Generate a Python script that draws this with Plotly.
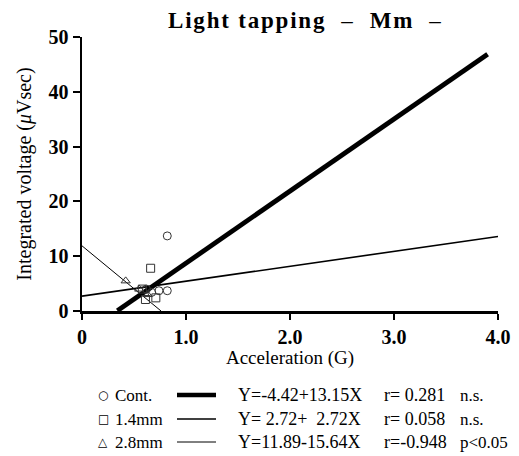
import plotly.graph_objects as go

# ---------------- data ----------------
cont_x = [0.82, 0.74, 0.82, 0.62, 0.67]
cont_y = [13.7, 3.7, 3.7, 4.0, 3.4]
mm14_x = [0.66, 0.71, 0.61, 0.58]
mm14_y = [7.8, 2.4, 2.1, 4.0]
mm28_x = [0.42, 0.55, 0.63]
mm28_y = [5.5, 4.0, 3.0]

# regression lines: intercept, slope, x-extent
cont_fit = (-4.42, 13.15)
cont_line_x = [0.34, 3.9]
mm14_fit = (2.72, 2.72)
mm14_line_x = [0.0, 4.0]
mm28_fit = (11.89, -15.64)
mm28_line_x = [0.0, 0.76]

x_ticks = [0, 1, 2, 3, 4]
x_ticktext = ["0", "1.0", "2.0", "3.0", "4.0"]
y_ticks = [0, 10, 20, 30, 40, 50]

legend_labels = ["Cont.", "1.4mm", "2.8mm"]
legend_symbols = ["○", "□", "△"]
legend_eq = ["Y=-4.42+13.15X", "Y=\u00a02.72+\u00a0\u00a02.72X", "Y=11.89-15.64X"]
legend_r = ["r=\u00a00.281", "r=\u00a00.058", "r=-0.948"]
legend_sig = ["n.s.", "n.s.", "p<0.05"]
legend_widths = [4.5, 1.6, 1.0]

FONT = "Liberation Serif"
W, H = 519, 456
L, R, T, B = 82, 21, 37, 145
PW, PH = W - L - R, H - T - B


def px(xp):
    return (xp - L) / PW


def py(yp):
    return (H - B - yp) / PH


fig = go.Figure()


def line_trace(fit, xs, width):
    a, b = fit
    return go.Scatter(x=xs, y=[a + b * v for v in xs], mode="lines",
                      line=dict(color="black", width=width),
                      showlegend=False, hoverinfo="skip", cliponaxis=False)


fig.add_trace(line_trace(cont_fit, cont_line_x, 4.8))
fig.add_trace(line_trace(mm14_fit, mm14_line_x, 1.6))
fig.add_trace(line_trace(mm28_fit, mm28_line_x, 1.0))

mk = dict(color="#333333", size=8, line=dict(width=1))
fig.add_trace(go.Scatter(x=cont_x, y=cont_y, mode="markers",
                         marker=dict(symbol="circle-open", **mk),
                         showlegend=False, cliponaxis=False))
fig.add_trace(go.Scatter(x=mm14_x, y=mm14_y, mode="markers",
                         marker=dict(symbol="square-open", **mk),
                         showlegend=False, cliponaxis=False))
fig.add_trace(go.Scatter(x=mm28_x, y=mm28_y, mode="markers",
                         marker=dict(symbol="triangle-up-open", **mk),
                         showlegend=False, cliponaxis=False))

# legend block
rows_y = [395, 419, 442]
fs = 17
for i in range(3):
    yy = py(rows_y[i])
    fig.add_annotation(x=px(103), y=yy, xref="paper", yref="paper",
                       text=legend_symbols[i], showarrow=False,
                       xanchor="center", yanchor="middle",
                       font=dict(family="DejaVu Sans", size=12, color="black"))
    fig.add_annotation(x=px(113), y=yy, xref="paper", yref="paper",
                       text=legend_labels[i],
                       showarrow=False, xanchor="left", yanchor="middle",
                       font=dict(family=FONT, size=fs, color="black"))
    fig.add_shape(type="line", xref="paper", yref="paper",
                  x0=px(177), x1=px(216), y0=yy, y1=yy,
                  line=dict(color="black", width=legend_widths[i]))
    fig.add_annotation(x=px(236), y=yy, xref="paper", yref="paper",
                       text=legend_eq[i], showarrow=False,
                       xanchor="left", yanchor="middle",
                       font=dict(family=FONT, size=fs + 1, color="black"))
    fig.add_annotation(x=px(382), y=yy, xref="paper", yref="paper",
                       text=legend_r[i], showarrow=False,
                       xanchor="left", yanchor="middle",
                       font=dict(family=FONT, size=fs + 1, color="black"))
    fig.add_annotation(x=px(458), y=yy, xref="paper", yref="paper",
                       text=legend_sig[i], showarrow=False,
                       xanchor="left", yanchor="middle",
                       font=dict(family=FONT, size=fs, color="black"))

fig.update_layout(
    width=W, height=H,
    margin=dict(l=L, r=R, t=T, b=B, autoexpand=False),
    paper_bgcolor="white", plot_bgcolor="white",
    font=dict(family=FONT, color="black"),
    title=dict(text="<b>Light tapping</b>\u00a0\u00a0–\u00a0\u00a0<b>Mm</b>\u00a0\u00a0–",
               x=168 / W, xanchor="left", y=1 - 20 / H, yanchor="middle",
               font=dict(family=FONT, size=23, color="black")),
    xaxis=dict(range=[0, 4], tickvals=x_ticks, ticktext=x_ticktext,
               automargin=False,
               showgrid=False, zeroline=False, showline=True,
               linecolor="black", linewidth=2.5, ticks="outside",
               ticklen=6, tickwidth=2, tickcolor="black",
               tickfont=dict(family=FONT, size=20, color="black", weight="bold"),
               title=dict(text="Acceleration (G)", standoff=4,
                          font=dict(family=FONT, size=19, color="black"))),
    yaxis=dict(range=[0, 50], tickvals=y_ticks,
               automargin=False,
               showgrid=False, zeroline=False, showline=True,
               linecolor="black", linewidth=2.5, ticks="outside",
               ticklen=7, tickwidth=2, tickcolor="black",
               tickfont=dict(family=FONT, size=20, color="black", weight="bold"),
               title=dict(text="Integrated voltage (<i>μ</i>Vsec)", standoff=12,
                          font=dict(family=FONT, size=20, color="black"))),
)

post = (
    "document.body.style.margin='0';"
    "var t=document.querySelector('.gtitle');"
    "if(t){t.style.letterSpacing='1.8px';}"
)
fig.write_html("out.html", post_script=post,
               config={"displayModeBar": False, "staticPlot": True})
